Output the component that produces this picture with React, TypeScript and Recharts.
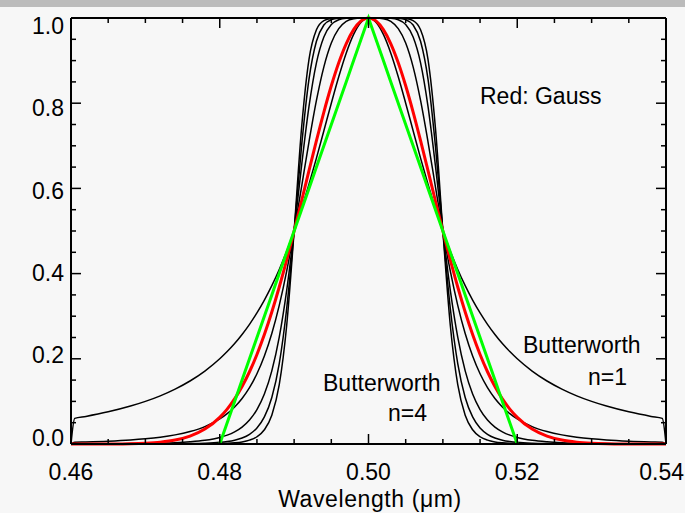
import React from "react";
import { LineChart, Line, XAxis, YAxis } from "recharts";

// wavelength grid (µm)
const wavelength = [
  0.46, 0.4605, 0.462, 0.465, 0.468, 0.47, 0.472, 0.474, 0.476, 0.478,
  0.48, 0.481, 0.482, 0.483, 0.484, 0.485, 0.486, 0.487, 0.488, 0.489,
  0.49, 0.491, 0.492, 0.493, 0.494, 0.495, 0.496, 0.497, 0.498, 0.499,
  0.5,
  0.501, 0.502, 0.503, 0.504, 0.505, 0.506, 0.507, 0.508, 0.509, 0.51,
  0.511, 0.512, 0.513, 0.514, 0.515, 0.516, 0.517, 0.518, 0.519, 0.52,
  0.522, 0.524, 0.526, 0.528, 0.53, 0.532, 0.535, 0.538, 0.5395, 0.54,
];

// Butterworth n=1
const butter1 = [
  0, 0.0602, 0.0648, 0.0755, 0.089, 0.1, 0.1131, 0.1289, 0.1479, 0.1712,
  0.2, 0.2169, 0.2358, 0.2571, 0.2809, 0.3077, 0.3378, 0.3717, 0.4098, 0.4525,
  0.5, 0.5525, 0.6098, 0.6711, 0.7353, 0.8, 0.8621, 0.9174, 0.9615, 0.9901,
  1,
  0.9901, 0.9615, 0.9174, 0.8621, 0.8, 0.7353, 0.6711, 0.6098, 0.5525, 0.5,
  0.4525, 0.4098, 0.3717, 0.3378, 0.3077, 0.2809, 0.2571, 0.2358, 0.2169, 0.2,
  0.1712, 0.1479, 0.1289, 0.1131, 0.1, 0.089, 0.0755, 0.0648, 0.0602, 0,
];

const butter2 = [
  0, 0.0041, 0.0048, 0.0066, 0.0094, 0.0122, 0.016, 0.0214, 0.0293, 0.0409,
  0.0588, 0.0713, 0.087, 0.1069, 0.1324, 0.1649, 0.2065, 0.2593, 0.3254, 0.4058,
  0.5, 0.6038, 0.7095, 0.8064, 0.8853, 0.9412, 0.975, 0.992, 0.9984, 0.9999,
  1,
  0.9999, 0.9984, 0.992, 0.975, 0.9412, 0.8853, 0.8064, 0.7095, 0.6038, 0.5,
  0.4058, 0.3254, 0.2593, 0.2065, 0.1649, 0.1324, 0.1069, 0.087, 0.0713, 0.0588,
  0.0409, 0.0293, 0.0214, 0.016, 0.0122, 0.0094, 0.0066, 0.0048, 0.0041, 0,
];

const butter3 = [
  0, 0.0003, 0.0003, 0.0005, 0.0009, 0.0014, 0.0021, 0.0032, 0.0052, 0.0087,
  0.0154, 0.0208, 0.0286, 0.0398, 0.0562, 0.0807, 0.1172, 0.1716, 0.2509, 0.3608,
  0.5, 0.653, 0.7923, 0.8948, 0.9554, 0.9846, 0.9959, 0.9993, 1, 1,
  1,
  1, 1, 0.9993, 0.9959, 0.9846, 0.9554, 0.8948, 0.7923, 0.653, 0.5,
  0.3608, 0.2509, 0.1716, 0.1172, 0.0807, 0.0562, 0.0398, 0.0286, 0.0208, 0.0154,
  0.0087, 0.0052, 0.0032, 0.0021, 0.0014, 0.0009, 0.0005, 0.0003, 0.0003, 0,
];

const butter4 = [
  0, 0, 0, 0, 0.0001, 0.0002, 0.0003, 0.0005, 0.0009, 0.0018,
  0.0039, 0.0059, 0.009, 0.0141, 0.0228, 0.0376, 0.0635, 0.1092, 0.1887, 0.3181,
  0.5, 0.6991, 0.8563, 0.9455, 0.9835, 0.9961, 0.9993, 1, 1, 1,
  1,
  1, 1, 1, 0.9993, 0.9961, 0.9835, 0.9455, 0.8563, 0.6991, 0.5,
  0.3181, 0.1887, 0.1092, 0.0635, 0.0376, 0.0228, 0.0141, 0.009, 0.0059, 0.0039,
  0.0018, 0.0009, 0.0005, 0.0003, 0.0002, 0.0001, 0, 0, 0, 0,
];

const butter5 = [
  0, 0, 0, 0, 0, 0, 0, 0.0001, 0.0002, 0.0004,
  0.001, 0.0016, 0.0028, 0.0049, 0.009, 0.017, 0.0334, 0.0676, 0.1391, 0.2782,
  0.5, 0.7415, 0.903, 0.9725, 0.994, 0.999, 1, 1, 1, 1,
  1,
  1, 1, 1, 1, 0.999, 0.994, 0.9725, 0.903, 0.7415, 0.5,
  0.2782, 0.1391, 0.0676, 0.0334, 0.017, 0.009, 0.0049, 0.0028, 0.0016, 0.001,
  0.0004, 0.0002, 0.0001, 0, 0, 0, 0, 0, 0, 0,
];

// red curve
const gauss = [
  0, 0, 0, 0.0002, 0.0008, 0.002, 0.0044, 0.0092, 0.0185, 0.035,
  0.0625, 0.0819, 0.1058, 0.135, 0.1696, 0.2102, 0.257, 0.3099, 0.3686, 0.4323,
  0.5, 0.5704, 0.6417, 0.712, 0.7792, 0.8409, 0.895, 0.9395, 0.9727, 0.9931,
  1,
  0.9931, 0.9727, 0.9395, 0.895, 0.8409, 0.7792, 0.712, 0.6417, 0.5704, 0.5,
  0.4323, 0.3686, 0.3099, 0.257, 0.2102, 0.1696, 0.135, 0.1058, 0.0819, 0.0625,
  0.035, 0.0185, 0.0092, 0.0044, 0.002, 0.0008, 0.0002, 0, 0, 0,
];

// green curve
const triangle = [
  null, null, null, null, null, null, null, null, null, null,
  0, 0.05, 0.1, 0.15, 0.2, 0.25, 0.3, 0.35, 0.4, 0.45,
  0.5, 0.55, 0.6, 0.65, 0.7, 0.75, 0.8, 0.85, 0.9, 0.95,
  1,
  0.95, 0.9, 0.85, 0.8, 0.75, 0.7, 0.65, 0.6, 0.55, 0.5,
  0.45, 0.4, 0.35, 0.3, 0.25, 0.2, 0.15, 0.1, 0.05, 0,
  null, null, null, null, null, null, null, null, null, null,
];

const xMajor = [0.46, 0.48, 0.5, 0.52, 0.54];
const xLabels = ["0.46", "0.48", "0.50", "0.52", "0.54"];
const xMinor = [0.465, 0.47, 0.475, 0.485, 0.49, 0.495, 0.505, 0.51, 0.515, 0.525, 0.53, 0.535];
const yMajor = [0, 0.2, 0.4, 0.6, 0.8, 1];
const yLabels = ["0.0", "0.2", "0.4", "0.6", "0.8", "1.0"];
const yMinor = [0.05, 0.1, 0.15, 0.25, 0.3, 0.35, 0.45, 0.5, 0.55, 0.65, 0.7, 0.75, 0.85, 0.9, 0.95];

const data = wavelength.map((wl, i) => ({
  wl,
  b1: butter1[i],
  b2: butter2[i],
  b3: butter3[i],
  b4: butter4[i],
  b5: butter5[i],
  gauss: gauss[i],
  tri: triangle[i],
}));

const FONT = "'Liberation Sans', Arial, sans-serif";
const MAJOR = 10;
const MINOR = 5;
// plot box: 71..666 x 18..444
const PLOT_W = 595;
const PLOT_H = 426;

const majorIndex = (list: number[], v: number) => list.findIndex((m) => Math.abs(m - v) < 1e-6);

// bottom ticks + the matching tick on the top frame
const BottomTick = (props: any) => {
  const { x, y, payload } = props;
  const i = majorIndex(xMajor, payload.value);
  const len = i >= 0 ? MAJOR : MINOR;
  const last = i === xMajor.length - 1;
  return (
    <g>
      <line x1={x} x2={x} y1={y} y2={y - len} stroke="#000" strokeWidth={1.5} />
      <line x1={x} x2={x} y1={y - PLOT_H} y2={y - PLOT_H + len} stroke="#000" strokeWidth={1.5} />
      {i >= 0 && (
        <text
          x={last ? 684 : x}
          y={y + 36}
          textAnchor={last ? "end" : "middle"}
          fontSize={23}
          fontFamily={FONT}
          fill="#000"
        >
          {xLabels[i]}
        </text>
      )}
    </g>
  );
};

// left ticks + the matching tick on the right frame
const LeftTick = (props: any) => {
  const { x, y, payload } = props;
  const i = majorIndex(yMajor, payload.value);
  const len = i >= 0 ? MAJOR : MINOR;
  // end labels are nudged inward like the original
  const nudge = -6.5 + 14.5 * payload.value;
  return (
    <g>
      <line x1={x} x2={x + len} y1={y} y2={y} stroke="#000" strokeWidth={1.5} />
      <line x1={x + PLOT_W} x2={x + PLOT_W - len} y1={y} y2={y} stroke="#000" strokeWidth={1.5} />
      {i >= 0 && (
        <text x={x - 7} y={y + nudge + 8} textAnchor="end" fontSize={23} fontFamily={FONT} fill="#000">
          {yLabels[i]}
        </text>
      )}
    </g>
  );
};

const xTicks = [...xMajor, ...xMinor].sort((a, b) => a - b);
const yTicks = [...yMajor, ...yMinor].sort((a, b) => a - b);
const axisLine = { stroke: "#000", strokeWidth: 2 };

export default function App() {
  return (
    <div
      style={{
        position: "absolute",
        left: 0,
        top: 0,
        width: 685,
        height: 513,
        background: "#f7f7f7",
        overflow: "hidden",
      }}
    >
      <div style={{ position: "absolute", left: 0, top: 0, width: 685, height: 7, background: "#bcbcbc" }} />
      <div style={{ position: "absolute", left: 0, top: 0 }}>
        <LineChart width={685} height={513} data={data} margin={{ top: 17, right: 18, bottom: 0, left: 0 }}>
          <XAxis
            xAxisId="b"
            dataKey="wl"
            type="number"
            domain={[0.46, 0.54]}
            ticks={xTicks}
            interval={0}
            height={69}
            tickSize={0}
            tickMargin={0}
            tickLine={false}
            axisLine={axisLine}
            tick={BottomTick}
          />
          <XAxis
            xAxisId="t"
            orientation="top"
            dataKey="wl"
            type="number"
            domain={[0.46, 0.54]}
            height={1}
            tick={false}
            tickLine={false}
            axisLine={axisLine}
          />
          <YAxis
            yAxisId="l"
            type="number"
            domain={[0, 1]}
            ticks={yTicks}
            interval={0}
            width={71}
            tickSize={0}
            tickMargin={0}
            tickLine={false}
            axisLine={axisLine}
            tick={LeftTick}
          />
          <YAxis
            yAxisId="r"
            orientation="right"
            type="number"
            domain={[0, 1]}
            width={1}
            tick={false}
            tickLine={false}
            axisLine={axisLine}
          />
          {["b1", "b2", "b3", "b4", "b5"].map((k) => (
            <Line
              key={k}
              xAxisId="b"
              yAxisId="l"
              type="monotone"
              dataKey={k}
              stroke="#000"
              strokeWidth={1.5}
              dot={false}
              isAnimationActive={false}
            />
          ))}
          <Line
            xAxisId="b"
            yAxisId="l"
            type="monotone"
            dataKey="gauss"
            stroke="#ff0000"
            strokeWidth={3}
            dot={false}
            isAnimationActive={false}
          />
          <Line
            xAxisId="b"
            yAxisId="l"
            type="linear"
            dataKey="tri"
            stroke="#00ff00"
            strokeWidth={3}
            dot={false}
            connectNulls={false}
            isAnimationActive={false}
          />
        </LineChart>
      </div>
      <svg
        width={685}
        height={513}
        style={{ position: "absolute", left: 0, top: 0, pointerEvents: "none" }}
        fontFamily={FONT}
        fontSize={23}
        fill="#000"
      >
        <text x={480} y={104}>Red: Gauss</text>
        <text x={523} y={353}>Butterworth</text>
        <text x={588} y={385}>n=1</text>
        <text x={323} y={391}>Butterworth</text>
        <text x={388} y={421}>n=4</text>
        <text x={370} y={507} textAnchor="middle" letterSpacing={0.6}>
          Wavelength (μm)
        </text>
      </svg>
    </div>
  );
}
